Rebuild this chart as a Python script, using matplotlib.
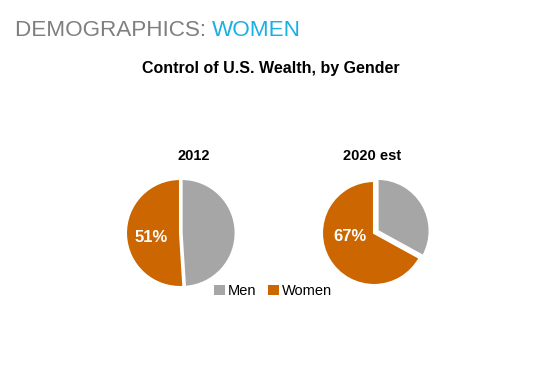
import matplotlib.pyplot as plt
from matplotlib.patches import Patch

plt.rcParams["font.family"] = ["Liberation Sans", "DejaVu Sans"]

years = ["2012", "2020 est"]
categories = ["Men", "Women"]
men_share = [49, 33]
women_share = [51, 67]
colors = {"Men": "#a6a6a6", "Women": "#cc6600"}

W, H = 549, 377
fig = plt.figure(figsize=(W / 100, H / 100), dpi=100)

# header
t1 = fig.text(15 / W, 1 - 36 / H, "DEMOGRAPHICS: ", color="#7f7f7f", fontsize=16.2, va="baseline")
fig.canvas.draw()
bb = t1.get_window_extent(renderer=fig.canvas.get_renderer())
fig.text(bb.x1 / W, 1 - 36 / H, "WOMEN", color="#1ab0e0", fontsize=16.2, va="baseline")

fig.text(271 / W, 1 - 73 / H, "Control of U.S. Wealth, by Gender", fontsize=11.5,
         fontweight="bold", ha="center", va="baseline")

centers = [(180, 233), (374, 233)]
radii = [54, 52]
title_x = [194, 372]
label_pos = [(-0.54, -0.09), (-0.47, -0.07)]
explodes = [(0.03, 0.0), (0.08, 0.0)]

for i, year in enumerate(years):
    cx, cy = centers[i]
    half = 1.2 * radii[i]
    ax = fig.add_axes([(cx - half) / W, (H - cy - half) / H, 2 * half / W, 2 * half / H])
    vals = [men_share[i], women_share[i]]
    ax.pie(vals, colors=[colors[c] for c in categories], startangle=90, counterclock=False,
           explode=explodes[i], wedgeprops=dict(edgecolor="white", linewidth=1.5))
    ax.set_xlim(-1.2, 1.2)
    ax.set_ylim(-1.2, 1.2)
    ax.set_aspect("equal")
    ax.axis("off")
    lx, ly = label_pos[i]
    ax.text(lx, ly, f"{women_share[i]}%", color="white", fontsize=12, fontweight="bold",
            ha="center", va="center")
    fig.text(title_x[i] / W, 1 - 160 / H, year, fontsize=10.5, fontweight="bold",
             ha="center", va="baseline")

handles = [Patch(facecolor=colors[c], edgecolor="none") for c in categories]
fig.legend(handles, categories, loc="center", bbox_to_anchor=(273 / W, 1 - 291 / H), ncol=2,
           frameon=False, fontsize=10.5, handlelength=0.75, handleheight=0.75,
           handletextpad=0.2, columnspacing=0.8)

fig.savefig("out.png", dpi=100)
